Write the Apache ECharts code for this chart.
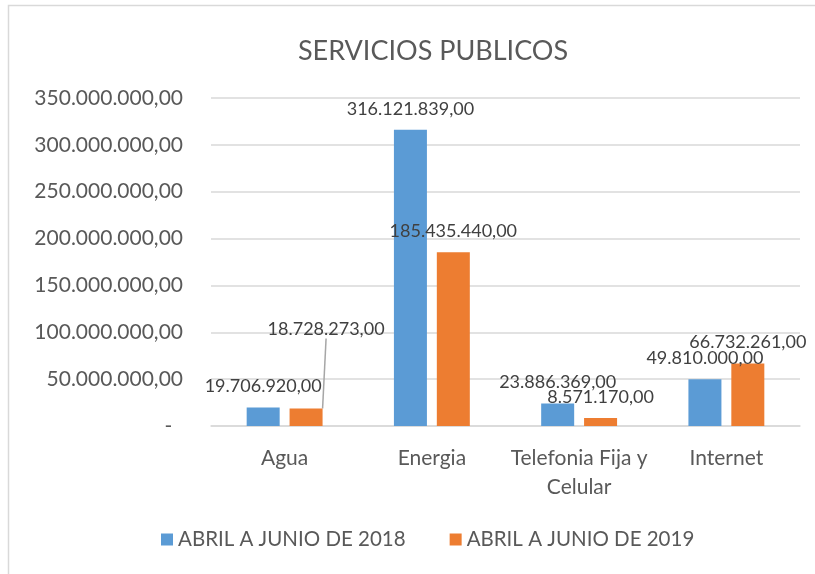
<!DOCTYPE html>
<html>
<head>
<meta charset="utf-8">
<script src="https://cdn.jsdelivr.net/npm/echarts@6/dist/echarts.min.js"></script>
<style>
  html, body { margin: 0; padding: 0; background: #fff; }
  #chart { width: 815px; height: 574px; }
</style>
</head>
<body>
<div id="chart"></div>
<script>
// chart data
const categories = ["Agua", "Energia", "Telefonia Fija y\nCelular", "Internet"];
const serie2018 = [19706920, 316121839, 23886369, 49810000];
const serie2019 = [18728273, 185435440, 8571170, 66732261];
const seriesNames = ["ABRIL A JUNIO DE 2018", "ABRIL A JUNIO DE 2019"];

const chart = echarts.init(document.getElementById("chart"), null, { renderer: "canvas" });

// 1234567 -> "1.234.567,00"
function fmt(v) {
  const s = Math.round(v).toString().replace(/\B(?=(\d{3})+(?!\d))/g, ".");
  return s + ",00";
}

const font = "Lato";

// only the first orange label is pulled away from its bar, with a leader line
const data2019 = serie2019.map((v, i) => i === 0
  ? { value: v, labelLine: { show: true, lineStyle: { color: "#a6a6a6", width: 1.5 } } }
  : { value: v, labelLine: { show: false } });

chart.setOption({
  backgroundColor: "#fff",
  animation: false,
  graphic: [{
    type: "rect",
    shape: { x: 8.5, y: 5.5, width: 900, height: 900 },
    style: { fill: "none", stroke: "#d9d9d9", lineWidth: 1.5 },
    silent: true
  }],
  title: {
    text: "SERVICIOS PUBLICOS",
    left: 428,
    top: 33,
    textAlign: "center",
    textStyle: { fontFamily: font, fontSize: 27, fontWeight: "normal", color: "#595959" }
  },
  legend: {
    bottom: 19,
    left: 156,
    itemWidth: 12,
    itemHeight: 12,
    itemGap: 44,
    icon: "rect",
    textStyle: { fontFamily: font, fontSize: 20.5, color: "#595959" },
    data: seriesNames
  },
  grid: { left: 211, right: 15, top: 98, bottom: 148 },
  xAxis: {
    type: "category",
    data: categories,
    axisLine: { lineStyle: { color: "#d9d9d9", width: 1.5 } },
    axisTick: { show: false },
    axisLabel: { interval: 0, fontFamily: font, fontSize: 21, color: "#595959", margin: 18, lineHeight: 29 }
  },
  yAxis: {
    type: "value",
    min: 0,
    max: 350000000,
    interval: 50000000,
    axisLine: { show: false },
    axisTick: { show: false },
    splitLine: { lineStyle: { color: "#d9d9d9", width: 1.5 } },
    axisLabel: {
      fontFamily: font, fontSize: 21, color: "#595959", margin: 28,
      formatter: v => v === 0 ? "-  " : fmt(v)
    }
  },
  series: [
    {
      name: seriesNames[0],
      type: "bar",
      data: serie2018,
      barWidth: 33,
      barGap: "30%",
      itemStyle: { color: "#5B9BD5" },
      label: {
        show: true, position: "top", distance: 12,
        fontFamily: font, fontSize: 18, color: "#404040",
        formatter: p => fmt(p.value)
      }
    },
    {
      name: seriesNames[1],
      type: "bar",
      data: data2019,
      barWidth: 33,
      itemStyle: { color: "#ED7D31" },
      label: {
        show: true, position: "top", distance: 12,
        fontFamily: font, fontSize: 18, color: "#404040",
        formatter: p => fmt(p.value)
      },
      labelLayout: p => p.dataIndex === 0 ? { dx: 20, dy: -58 } : {}
    }
  ]
});
</script>
</body>
</html>
